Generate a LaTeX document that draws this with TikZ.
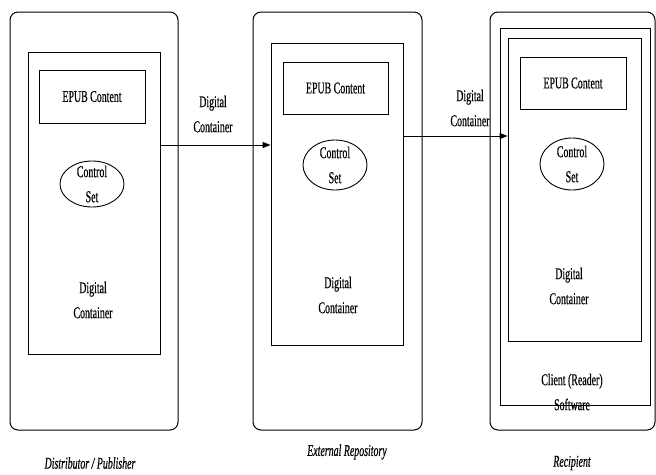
\documentclass[tikz,border=0pt]{standalone}
\usepackage{fontspec}
\setmainfont{Liberation Serif}[FakeStretch=0.6, FakeBold=0.4]
\usetikzlibrary{shapes.geometric,arrows.meta}
\begin{document}
\begin{tikzpicture}[x=1pt,y=-1pt,
  every node/.style={font=\fontsize{16.5}{25}\selectfont, align=center},
  outerbox/.style={draw, rounded corners=8pt, line width=1pt, inner sep=0},
  plainbox/.style={draw, line width=1pt, inner sep=0},
  ctrl/.style={draw, ellipse, line width=0.9pt, inner sep=0},
  txt/.style={inner sep=0},
  title/.style={inner sep=0, font=\itshape\fontsize{16.5}{25}\selectfont},
  flow/.style={line width=1pt, -{Triangle[length=8pt,width=6pt]}}
]
\useasboundingbox (0,0) rectangle (656,474);

% Distributor / Publisher
\node[outerbox, minimum width=168pt, minimum height=418pt] (o1) at (94,221) {};
\node[plainbox, minimum width=132pt, minimum height=302pt] (i1) at (94,203) {};
\node[plainbox, minimum width=106pt, minimum height=53pt] (e1) at (92,96.5) {EPUB Content};
\node[ctrl, minimum width=64pt, minimum height=46pt] (c1) at (92,184) {};
\node[txt] (c1t) at (c1.center) {Control\\Set};
\node[txt] (d1) at (93,300) {Digital\\Container};
\node[title] (t1) at (90,463) {Distributor / Publisher};

% External Repository
\node[outerbox, minimum width=169pt, minimum height=418pt] (o2) at (337.5,221) {};
\node[plainbox, minimum width=132pt, minimum height=302pt] (i2) at (337,194) {};
\node[plainbox, minimum width=105pt, minimum height=52pt] (e2) at (335.5,88) {EPUB Content};
\node[ctrl, minimum width=64pt, minimum height=50pt] (c2) at (335,165) {};
\node[txt] (c2t) at (c2.center) {Control\\Set};
\node[txt] (d2) at (338,295) {Digital\\Container};
\node[title] (t2) at (347,452) {External Repository};

% Recipient
\node[outerbox, minimum width=165pt, minimum height=418pt] (o3) at (572.5,221) {};
\node[plainbox, minimum width=150pt, minimum height=377pt] (m3) at (575,216.5) {};
\node[plainbox, minimum width=133pt, minimum height=303pt] (i3) at (574.5,189.5) {};
\node[plainbox, minimum width=106pt, minimum height=52pt] (e3) at (573,83) {EPUB Content};
\node[ctrl, minimum width=64pt, minimum height=52pt] (c3) at (572,164) {};
\node[txt] (c3t) at (c3.center) {Control\\Set};
\node[txt] (d3) at (569,286) {Digital\\Container};
\node[txt] (s3) at (572,392) {Client (Reader)\\Software};
\node[title] (t3) at (572,463) {Recipient};

% Flows
\coordinate (a1) at (0,145);
\coordinate (a2) at (0,136);
\draw[flow] (i1.east |- a1) -- (i2.west |- a1);
\draw[flow] (i2.east |- a2) -- (i3.west |- a2);
\node[txt] (l1) at (213,114) {Digital\\Container};
\node[txt] (l2) at (470,108) {Digital\\Container};
\end{tikzpicture}
\end{document}
